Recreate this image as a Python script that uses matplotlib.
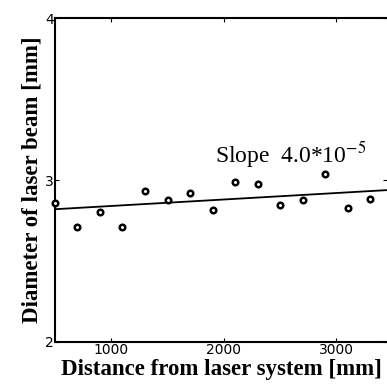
import matplotlib
matplotlib.use('Agg')
import matplotlib.pyplot as plt
import numpy as np

# measured beam diameter vs distance
distance = [500, 700, 900, 1100, 1300, 1500, 1700, 1900, 2100, 2300, 2500, 2700, 2900, 3100, 3300]
diameter = [2.86, 2.71, 2.80, 2.71, 2.93, 2.875, 2.92, 2.815, 2.985, 2.975, 2.845, 2.88, 3.035, 2.83, 2.885]

# fitted line end points
fit_x = [500, 3450]
fit_y = [2.82, 2.938]

x_ticks = [1000, 2000, 3000]
y_ticks = [2, 3, 4]

plt.rcParams['font.family'] = ['Liberation Serif', 'DejaVu Serif']
plt.rcParams['mathtext.fontset'] = 'stix'

fig = plt.figure(figsize=(3.87, 3.86), dpi=100)
ax = fig.add_axes([0.142, 0.114, 0.858, 0.839])

ax.plot(fit_x, fit_y, color='black', lw=1.3)
ax.scatter(distance, diameter, s=16, facecolors='white', edgecolors='black', linewidths=1.8, zorder=3, clip_on=False)

ax.set_xlim(500, 3450)
ax.set_ylim(2, 4)
ax.set_xticks(x_ticks)
ax.set_yticks(y_ticks)
ax.tick_params(direction='in', length=3, width=0.8, labelsize=10, pad=1, top=True, right=True)
for lab in ax.get_xticklabels() + ax.get_yticklabels():
    lab.set_family('DejaVu Sans')
ax.spines['right'].set_visible(False)
for s in ['left', 'bottom', 'top']:
    ax.spines[s].set_linewidth(1.5)

ax.set_xlabel('Distance from laser system [mm]', fontsize=16.5, fontweight='bold', labelpad=1)
ax.set_ylabel('Diameter of laser beam [mm]', fontsize=16.5, fontweight='bold', labelpad=2)

ax.text(1920, 3.16, r'Slope  4.0*10$^{-5}$', fontsize=17, va='center', ha='left')

fig.savefig('out.png', dpi=100)
